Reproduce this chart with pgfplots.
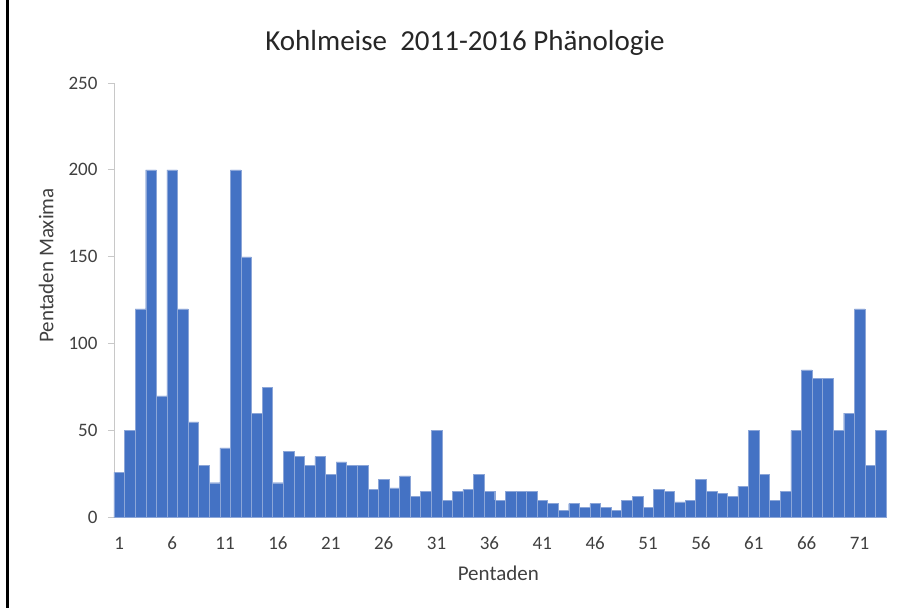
\documentclass[border=0pt]{standalone}
\usepackage{pgfplots}
\pgfplotsset{compat=1.18}
\usepackage{fontspec}
\setmainfont{Carlito}
\definecolor{barblue}{RGB}{68,114,196}
\definecolor{baredge}{RGB}{140,166,216}
\definecolor{txt}{RGB}{64,64,64}
\definecolor{axgrey}{RGB}{200,200,200}
\begin{document}
\begin{tikzpicture}
\path[use as bounding box] (-114bp,-90.5bp) rectangle (792bp,517.5bp);
\begin{axis}[
  at={(0,0)}, anchor=south west,
  scale only axis, width=772bp, height=434.5bp,
  xmin=0.5, xmax=73.5, ymin=0, ymax=250,
  ybar, bar width=1, bar shift=0pt,
  xtick={1,6,...,71}, ytick={0,50,...,250},
  axis x line*=bottom, axis y line*=left,
  axis line style={axgrey, line width=0.8bp, -},
  x axis line style={-}, y axis line style={-},
  tick align=outside,
  xtick style={draw=none},
  ytick style={axgrey, line width=0.8bp},
  major tick length=6bp,
  /pgf/number format/assume math mode=true,
  ticklabel style={font=\fontsize{19bp}{22bp}\selectfont, text=txt},
  xticklabel style={yshift=-10bp},
  yticklabel style={xshift=-7bp},
  xlabel={Pentaden}, ylabel={Pentaden Maxima},
  label style={font=\fontsize{21bp}{24bp}\selectfont, text=txt},
  xlabel style={at={(axis description cs:0.4978,0)}, anchor=base, yshift=-62.5bp},
  ylabel style={at={(axis description cs:-0.0786,0.58)}, anchor=base},
  clip=false,
]
\addplot[fill=barblue, draw=baredge, line width=0.4bp] coordinates {
(1,26)(2,50)(3,120)(4,200)(5,70)(6,200)(7,120)(8,55)(9,30)(10,20)
(11,40)(12,200)(13,150)(14,60)(15,75)(16,20)(17,38)(18,35)(19,30)(20,35)
(21,25)(22,32)(23,30)(24,30)(25,16)(26,22)(27,17)(28,24)(29,12)(30,15)
(31,50)(32,10)(33,15)(34,16)(35,25)(36,15)(37,10)(38,15)(39,15)(40,15)
(41,10)(42,8)(43,4)(44,8)(45,6)(46,8)(47,6)(48,4)(49,10)(50,12)
(51,6)(52,16)(53,15)(54,9)(55,10)(56,22)(57,15)(58,14)(59,12)(60,18)
(61,50)(62,25)(63,10)(64,15)(65,50)(66,85)(67,80)(68,80)(69,50)(70,60)
(71,120)(72,30)(73,50)
};
\end{axis}
\node[anchor=base, font=\fontsize{29bp}{34bp}\selectfont, text=black!85] at (351bp,466.5bp) {Kohlmeise\ \ 2011-2016 Phänologie};
\draw[black, line width=3bp] (-106bp,-90.5bp) -- (-106bp,517.5bp);
\end{tikzpicture}
\end{document}
